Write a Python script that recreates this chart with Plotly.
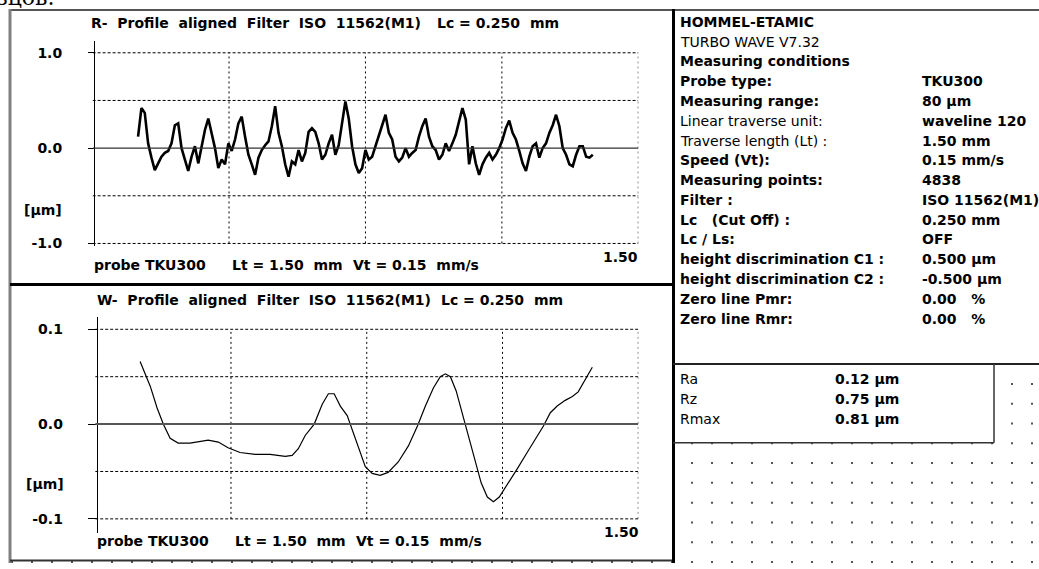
import numpy as np
import plotly.graph_objects as go

W, H = 1039, 569

# ---------------- data ----------------
# R-profile (roughness) values in µm, sampled evenly between the evaluation limits
r_start_mm, r_end_mm = 0.125, 1.375
r_vals = [0.12, 0.42, 0.37, 0.05, -0.10, -0.23, -0.16, -0.09, -0.05, -0.03,
          0.05, 0.24, 0.26, 0.00, -0.12, -0.24, -0.09, 0.02, -0.16, 0.00,
          0.19, 0.31, 0.16, 0.00, -0.21, -0.12, -0.17, 0.05, -0.03, 0.09,
          0.26, 0.33, 0.12, -0.07, -0.17, -0.28, -0.10, -0.02, 0.03, 0.07,
          0.23, 0.44, 0.16, 0.02, -0.17, -0.30, -0.14, -0.17, -0.02, -0.14,
          -0.05, 0.17, 0.21, 0.17, 0.05, -0.12, -0.07, 0.05, 0.14, -0.07,
          0.03, 0.26, 0.49, 0.31, 0.02, -0.17, -0.26, -0.21, -0.02, -0.12,
          -0.09, 0.02, 0.14, 0.24, 0.35, 0.16, 0.09, -0.09, -0.14, -0.10,
          0.00, -0.09, -0.05, -0.02, 0.12, 0.23, 0.31, 0.12, 0.02, -0.02,
          -0.12, -0.07, 0.05, -0.03, 0.05, 0.14, 0.28, 0.42, 0.30, -0.17,
          0.02, -0.16, -0.28, -0.17, -0.10, -0.05, -0.12, -0.07, 0.00, 0.09,
          0.21, 0.29, 0.16, 0.09, -0.03, -0.16, -0.24, -0.09, 0.02, 0.05,
          -0.10, 0.00, 0.05, 0.16, 0.24, 0.35, 0.23, 0.00, -0.07, -0.17,
          -0.19, -0.07, 0.02, 0.02, -0.09, -0.10, -0.07]

# W-profile (waviness): position in mm, value in µm
w_x = [0.124, 0.152, 0.171, 0.188, 0.207, 0.229, 0.262, 0.290, 0.312, 0.340,
       0.367, 0.400, 0.442, 0.483, 0.525, 0.544, 0.561, 0.580, 0.605, 0.627,
       0.644, 0.660, 0.677, 0.696, 0.718, 0.746, 0.765, 0.787, 0.809, 0.837,
       0.865, 0.890, 0.912, 0.934, 0.953, 0.967, 0.981, 0.997, 1.014, 1.030,
       1.050, 1.066, 1.083, 1.100, 1.116, 1.138, 1.166, 1.193, 1.218, 1.238,
       1.257, 1.276, 1.298, 1.318, 1.334, 1.351, 1.373]
w_vals = [0.066, 0.040, 0.017, 0.000, -0.015, -0.020, -0.020, -0.018, -0.017, -0.019,
          -0.025, -0.030, -0.032, -0.032, -0.034, -0.033, -0.026, -0.012, 0.000, 0.021,
          0.032, 0.032, 0.019, 0.009, -0.015, -0.045, -0.052, -0.054, -0.051, -0.040,
          -0.023, -0.002, 0.019, 0.038, 0.050, 0.053, 0.050, 0.035, 0.011, -0.012,
          -0.040, -0.062, -0.077, -0.082, -0.077, -0.064, -0.047, -0.030, -0.014, -0.002,
          0.012, 0.019, 0.025, 0.029, 0.034, 0.046, 0.060]

# axis ticks / grids
r_ticks = [1.0, 0.0, -1.0]
r_ticktext = ["1.0", "0.0", "-1.0"]
r_grid_y = [1.0, 0.5, -0.5, -1.0]
w_ticks = [0.1, 0.0, -0.1]
w_ticktext = ["0.1", "0.0", "-0.1"]
w_grid_y = [0.1, 0.05, -0.05, -0.1]
grid_x = [0.375, 0.75, 1.125, 1.5]
x_max = 1.5

# info panel
info_labels = ["HOMMEL-ETAMIC", "TURBO WAVE V7.32", "Measuring conditions", "Probe type:",
               "Measuring range:", "Linear traverse unit:", "Traverse length (Lt) :",
               "Speed (Vt):", "Measuring points:", "Filter :", "Lc\u00a0\u00a0\u00a0(Cut Off) :",
               "Lc / Ls:", "height discrimination C1 :", "height discrimination C2 :",
               "Zero line Pmr:", "Zero line Rmr:"]
info_values = ["", "", "", "TKU300", "80 µm", "waveline 120", "1.50 mm", "0.15 mm/s",
               "4838", "ISO 11562(M1)", "0.250 mm", "OFF", "0.500 µm", "-0.500 µm",
               "0.00\u00a0\u00a0\u00a0%", "0.00\u00a0\u00a0\u00a0%"]
info_bold = [True, False, True, True, True, False, False, True, True, True, True, True,
             True, True, True, True]
result_names = ["Ra", "Rz", "Rmax"]
result_values = ["0.12 µm", "0.75 µm", "0.81 µm"]

# ---------------- helpers ----------------
def X(px):
    return px / W

def Y(py):
    return 1 - py / H

FONT = "DejaVu Sans"
fig = go.Figure()

# R-profile
r_x = np.linspace(r_start_mm, r_end_mm, len(r_vals))
fig.add_trace(go.Scatter(x=r_x, y=r_vals, mode="lines", xaxis="x", yaxis="y",
                         line=dict(color="black", width=2.6), hoverinfo="skip"))
# W-profile
fig.add_trace(go.Scatter(x=w_x, y=w_vals, mode="lines", xaxis="x2", yaxis="y2",
                         line=dict(color="black", width=1.2), hoverinfo="skip"))

# background dot raster (decoration)
dot_x, dot_y = [], []
for gy in np.arange(368, 570, 20):
    for gx in np.arange(12, 1039, 20):
        if (gx >= 680 and gy >= 448) or (gx >= 1000) or (gy >= 566):
            dot_x.append(gx)
            dot_y.append(gy)
fig.add_trace(go.Scatter(x=dot_x, y=dot_y, mode="markers", xaxis="x3", yaxis="y3",
                         marker=dict(symbol="square", size=2, color="#555"),
                         hoverinfo="skip"))

# ---------------- axes ----------------
r_dom_y = [Y(248.3), Y(41.7)]
w_dom_y = [Y(538.3), Y(320.7)]
r_range = [(149.7 - 248.3) / 96.35, (149.7 - 41.7) / 96.35]
w_range = [(428.6 - 538.3) / 958.0, (428.6 - 320.7) / 958.0]

tickfont = dict(family=FONT, size=14, color="black", weight="bold")
fig.update_layout(
    xaxis=dict(domain=[X(92.6), X(638.3)], range=[0, x_max], visible=False, anchor="y"),
    yaxis=dict(domain=r_dom_y, range=r_range, anchor="free", position=X(94),
               showline=True, linecolor="black", linewidth=1.2, ticks="outside",
               ticklen=6, tickcolor="black", tickwidth=1, tickvals=r_ticks,
               ticktext=r_ticktext, tickfont=tickfont, showgrid=False, zeroline=False,
               ticklabelstandoff=23),
    xaxis2=dict(domain=[X(95.2), X(638.3)], range=[0, x_max], visible=False, anchor="y2"),
    yaxis2=dict(domain=w_dom_y, range=w_range, anchor="free", position=X(96.7),
                showline=True, linecolor="black", linewidth=1.2, ticks="outside",
                ticklen=9, tickcolor="black", tickwidth=1, tickvals=w_ticks,
                ticktext=w_ticktext, tickfont=tickfont, showgrid=False, zeroline=False,
                ticklabelstandoff=22),
    xaxis3=dict(domain=[0, 1], range=[0, W], visible=False, anchor="y3"),
    yaxis3=dict(domain=[0, 1], range=[H, 0], visible=False, anchor="x3"),
)

shapes = []
# grids upper
for gy in r_grid_y:
    shapes.append(dict(type="line", xref="x", yref="y", x0=0, x1=x_max, y0=gy, y1=gy,
                       line=dict(color="black", width=1, dash="3px,2px")))
for gx in grid_x:
    shapes.append(dict(type="line", xref="x", yref="y", x0=gx, x1=gx, y0=-1.0, y1=1.0,
                       line=dict(color="black", width=1, dash="2px,3px")))
shapes.append(dict(type="line", xref="x", yref="y", x0=0, x1=x_max, y0=0, y1=0,
                   line=dict(color="#333", width=1.2)))
# grids lower
for gy in w_grid_y:
    shapes.append(dict(type="line", xref="x2", yref="y2", x0=0, x1=x_max, y0=gy, y1=gy,
                       line=dict(color="black", width=1, dash="3px,2px")))
for gx in grid_x:
    shapes.append(dict(type="line", xref="x2", yref="y2", x0=gx, x1=gx, y0=-0.1, y1=0.1,
                       line=dict(color="black", width=1, dash="2px,3px")))
shapes.append(dict(type="line", xref="x2", yref="y2", x0=0, x1=x_max, y0=0, y1=0,
                   line=dict(color="#555", width=2)))

def pline(x0, y0, x1, y1, color, width):
    shapes.append(dict(type="line", xref="paper", yref="paper", x0=X(x0), x1=X(x1),
                       y0=Y(y0), y1=Y(y1), line=dict(color=color, width=width)))

# frames
pline(10, 10, 1039, 10, "#555", 2)
pline(10, 9, 10, 569, "#808080", 3)
pline(10, 287.5, 673, 287.5, "black", 3)
pline(10, 566.5, 673, 566.5, "#333", 2)
pline(673.5, 9, 673.5, 569, "black", 3)
pline(673, 368, 1039, 368, "#222", 2)
pline(994, 368, 994, 447.5, "#333", 1.5)
pline(673, 447.5, 994, 447.5, "#333", 1.5)

annotations = []

def txt(s, x, y, size=14, bold=True, xanchor="left", family=FONT, color="black"):
    annotations.append(dict(text=("<b>%s</b>" % s) if bold else s, x=X(x), y=Y(y),
                            xref="paper", yref="paper", xanchor=xanchor, yanchor="middle",
                            showarrow=False, font=dict(family=family, size=size, color=color),
                            borderpad=0))

NB = "\u00a0"
# upper panel texts
txt("R-" + NB * 2 + "Profile" + NB * 2 + "aligned" + NB * 2 + "Filter" + NB * 2 + "ISO" + NB * 2 + "11562(M1)", 90, 23)
txt("Lc = 0.250", 436, 23)
txt("mm", 529, 23)
txt("[µm]", 63, 212, xanchor="right")
txt("probe TKU300", 93, 268)
txt("Lt = 1.50" + NB * 2 + "mm", 231, 268)
txt("Vt = 0.15" + NB * 2 + "mm/s", 352, 268)
txt("1.50", 639, 260, xanchor="right")

# lower panel texts
txt("W-" + NB * 2 + "Profile" + NB * 2 + "aligned" + NB * 2 + "Filter" + NB * 2 + "ISO" + NB * 2 + "11562(M1)", 96, 303)
txt("Lc = 0.250", 440, 303)
txt("mm", 533, 303)
txt("[µm]", 65, 489, xanchor="right")
txt("probe TKU300", 96, 547)
txt("Lt = 1.50" + NB * 2 + "mm", 234, 547)
txt("Vt = 0.15" + NB * 2 + "mm/s", 355, 547)
txt("1.50", 640, 538, xanchor="right")

# info panel
for i, (lab, val, b) in enumerate(zip(info_labels, info_values, info_bold)):
    yy = 22 + 20 * i
    txt(lab, 679, yy, bold=b)
    if val:
        txt(val, 921, yy)

for i, (nm, val) in enumerate(zip(result_names, result_values)):
    yy = 383 + 20 * i
    txt(nm, 679, yy, bold=False)
    txt(val, 834, yy)

# clipped document text at very top
annotations.append(dict(text="образцов.", x=X(56), y=Y(-3), xref="paper", yref="paper",
                        xanchor="right", yanchor="middle", showarrow=False,
                        font=dict(family="DejaVu Serif", size=22, color="black")))

fig.update_layout(width=W, height=H, margin=dict(l=0, r=0, t=0, b=0),
                  paper_bgcolor="white", plot_bgcolor="rgba(0,0,0,0)",
                  showlegend=False, shapes=shapes, annotations=annotations,
                  font=dict(family=FONT, color="black"), hovermode=False)

fig.write_html("out.html", config={"displayModeBar": False, "staticPlot": True},
               post_script="document.body.style.margin='0';document.body.style.overflow='hidden';")
